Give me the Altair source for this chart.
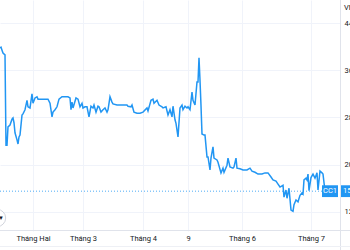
import altair as alt
import pandas as pd

# ---- data ----
bars = [0, 1, 2, 3, 5, 6, 7, 8, 10, 12, 13, 14, 15, 17, 18, 19, 20, 22, 23, 25,
        27, 28, 30, 32, 33, 35, 37, 38, 42, 46, 48, 50, 52, 53, 55, 57, 59, 62, 65, 68,
        70, 71, 72, 73, 76, 78, 80, 82, 83, 85, 87, 89, 91, 93, 94, 96, 98, 99, 101, 103,
        105, 107, 108, 110, 112, 113, 117, 122, 127, 128, 131, 132, 134, 137, 140, 143, 147, 148, 151, 153,
        154, 157, 159, 162, 163, 166, 168, 170, 172, 173, 175, 176, 178, 180, 182, 183, 185, 187, 188, 190,
        192, 193, 195, 197, 198, 199, 200, 201, 202, 204, 205, 207, 208, 210, 211, 213, 214, 217, 218, 221,
        223, 224, 227, 228, 230, 233, 234, 236, 237, 240, 243, 247, 250, 252, 255, 258, 262, 265, 268, 271,
        273, 276, 278, 280, 283, 284, 286, 287, 289, 291, 293, 294, 296, 298, 300, 302, 303, 304, 306, 307,
        308, 309, 311, 313, 315, 317, 318, 320, 322, 323, 325]
prices = [39.8, 39.9, 39.4, 38.9, 38.6, 23.3, 23.3, 26.4, 26.7, 27.7, 27.9, 27.1, 25.4, 24.2, 23.5, 24.7, 25.0, 28.4, 28.6, 29.3,
          30.9, 29.8, 29.6, 32.0, 30.4, 31.3, 31.5, 31.1, 31.1, 31.1, 31.1, 30.4, 28.1, 28.9, 29.3, 29.8, 31.1, 31.5, 31.5, 31.5,
          31.3, 29.3, 30.6, 29.6, 31.3, 31.1, 29.8, 30.4, 29.6, 29.8, 29.8, 28.1, 29.9, 29.6, 30.1, 28.9, 29.9, 29.8, 28.9, 29.3,
          29.6, 28.9, 29.3, 31.5, 30.6, 30.3, 30.1, 30.1, 30.1, 29.9, 29.8, 30.1, 28.9, 28.7, 28.7, 28.9, 29.6, 29.1, 30.9, 31.1,
          30.4, 30.9, 30.1, 29.8, 29.6, 29.8, 28.4, 29.3, 28.1, 29.9, 27.6, 27.0, 24.7, 29.6, 30.1, 29.3, 29.9, 29.6, 29.8, 29.3,
          32.3, 30.9, 30.1, 34.0, 34.0, 38.1, 34.3, 30.0, 25.2, 25.0, 25.0, 21.3, 21.3, 19.1, 21.1, 23.0, 21.1, 20.8, 20.4, 18.6,
          19.4, 18.7, 19.9, 21.1, 19.6, 19.4, 19.6, 21.1, 19.4, 19.3, 19.1, 19.1, 19.4, 18.9, 18.7, 18.4, 18.4, 18.6, 18.6, 17.9,
          17.4, 17.2, 16.7, 16.2, 16.5, 14.5, 15.7, 14.3, 16.0, 12.3, 12.1, 13.2, 14.0, 13.7, 14.8, 15.2, 15.0, 17.4, 17.7, 17.4,
          18.4, 15.6, 17.8, 18.4, 17.7, 18.6, 15.7, 18.9, 18.6, 18.4, 15.5]

tick_bars = [33, 83, 143, 188, 242, 311]
tick_labels = ["Tháng Hai", "Tháng 3", "Tháng 4", "9", "Tháng 6", "Tháng 7"]
y_ticks = [12, 16, 20, 24, 28, 32, 36, 40, 44]
last_price = 15.5
last_label = "15.50"
symbol = "CC1"

df = pd.DataFrame({"bar": bars, "price": prices})
last_df = pd.DataFrame({"price": [last_price], "lo": [last_price - 1.0], "hi": [last_price + 1.0],
                        "sym": [symbol], "lab": [last_label]})

label_expr = "".join(
    f"datum.value == {b} ? '{l}' : " for b, l in zip(tick_bars, tick_labels)
) + "''"

FONT = "Roboto"
BLUE = "#2196F3"
TEXT = "#131722"

xscale = alt.Scale(domain=[0, 340], nice=False, zero=False)
yscale = alt.Scale(domain=[8.75, 47.9], nice=False, zero=False)

line = alt.Chart(df).mark_line(color=BLUE, strokeWidth=1.5, clip=True).encode(
    x=alt.X("bar:Q", scale=xscale,
            axis=alt.Axis(values=tick_bars, labelExpr=label_expr, title=None, ticks=False,
                          domain=False, grid=True, gridColor="#f0f3fa", labelPadding=3,
                          labelFont=FONT, labelFontSize=7.5, labelColor=TEXT, labelFlush=False)),
    y=alt.Y("price:Q", scale=yscale,
            axis=alt.Axis(orient="right", values=y_ticks, title=None, ticks=False, domain=False,
                          grid=True, gridColor="#f0f3fa", labelPadding=4, labelAlign="left",
                          labelFont=FONT, labelFontSize=7.5, labelColor=TEXT, format="d")),
)

price_rule = alt.Chart(last_df).mark_rule(color=BLUE, strokeDash=[1, 2], strokeWidth=1, opacity=0.8).encode(
    y=alt.Y("price:Q", scale=yscale), x=alt.value(0), x2=alt.value(322)
)

sym_box = alt.Chart(last_df).mark_rect(color=BLUE).encode(
    y=alt.Y("lo:Q", scale=yscale), y2="hi:Q", x=alt.value(322), x2=alt.value(338)
)
sym_text = alt.Chart(last_df).mark_text(color="white", font=FONT, fontSize=7.5, align="center",
                                        baseline="middle").encode(
    y=alt.Y("price:Q", scale=yscale), x=alt.value(330), text="sym:N"
)
val_box = alt.Chart(last_df).mark_rect(color=BLUE).encode(
    y=alt.Y("lo:Q", scale=yscale), y2="hi:Q", x=alt.value(341), x2=alt.value(372)
)
val_text = alt.Chart(last_df).mark_text(color="white", font=FONT, fontSize=7.5, align="left",
                                        baseline="middle").encode(
    y=alt.Y("price:Q", scale=yscale), x=alt.value(343), text="lab:N"
)

frame = pd.DataFrame({"k": [0]})
vrule = alt.Chart(frame).mark_rule(color="#e0e3eb", strokeWidth=1).encode(
    x=alt.value(340.5), y=alt.value(0), y2=alt.value(250)
)
hrule = alt.Chart(frame).mark_rule(color="#e0e3eb", strokeWidth=1).encode(
    y=alt.value(230.5), x=alt.value(0), x2=alt.value(350)
)
brule = alt.Chart(frame).mark_rule(color="#eef0f5", strokeWidth=1).encode(
    y=alt.value(246.5), x=alt.value(0), x2=alt.value(350)
)
unit_text = alt.Chart(frame).mark_text(text="VND", color=TEXT, font=FONT, fontSize=7.5, align="left",
                                       baseline="middle").encode(x=alt.value(344), y=alt.value(8))
btn = alt.Chart(frame).mark_point(shape="circle", filled=True, fill="white", stroke="#d1d4dc",
                                  strokeWidth=1, size=300, opacity=1).encode(
    x=alt.value(-3), y=alt.value(218)
)
btn_glyph = alt.Chart(frame).mark_text(text="▼", color=TEXT, fontSize=6, align="center",
                                       baseline="middle").encode(x=alt.value(1), y=alt.value(218))

chart = alt.layer(
    line, price_rule, vrule, hrule, brule, sym_box, sym_text, val_box, val_text,
    unit_text, btn, btn_glyph
).properties(
    width=340, height=231,
    autosize=alt.AutoSizeParams(type="none"),
    padding={"left": 0, "top": 0, "right": 10, "bottom": 19},
    background="white",
).configure_view(stroke=None)

chart.save("out.html", embed_options={"renderer": "svg", "actions": False})
